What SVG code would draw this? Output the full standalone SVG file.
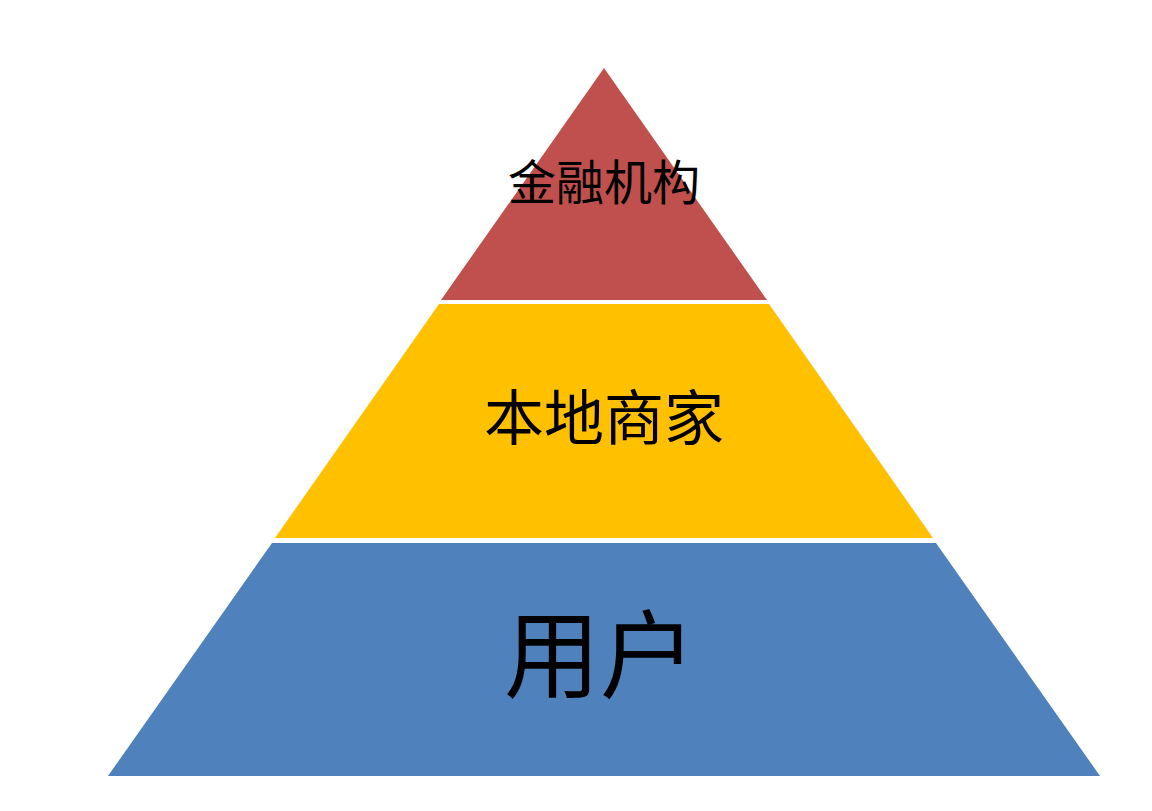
<svg xmlns="http://www.w3.org/2000/svg" width="1152" height="811" viewBox="0 0 1152 811">
<style>
text{font-family:"Liberation Serif","Noto Sans CJK SC",serif;text-anchor:middle;fill:#000}
</style>
<rect width="1152" height="811" fill="#fff"/>
<g id="top"><polygon points="604,68 767,300 441,300" fill="#C0504D"/><text x="604" y="200" font-size="48">金融机构</text></g>
<g id="mid"><polygon points="439,304 769,304 933,538 275,538" fill="#FFC000"/><text x="604" y="440" font-size="60">本地商家</text></g>
<g id="bottom"><polygon points="272,543 936,543 1100,776 108,776" fill="#4F81BD"/><text x="600" y="690" font-size="96">用户</text></g>
<g id="connectors"/>
</svg>
